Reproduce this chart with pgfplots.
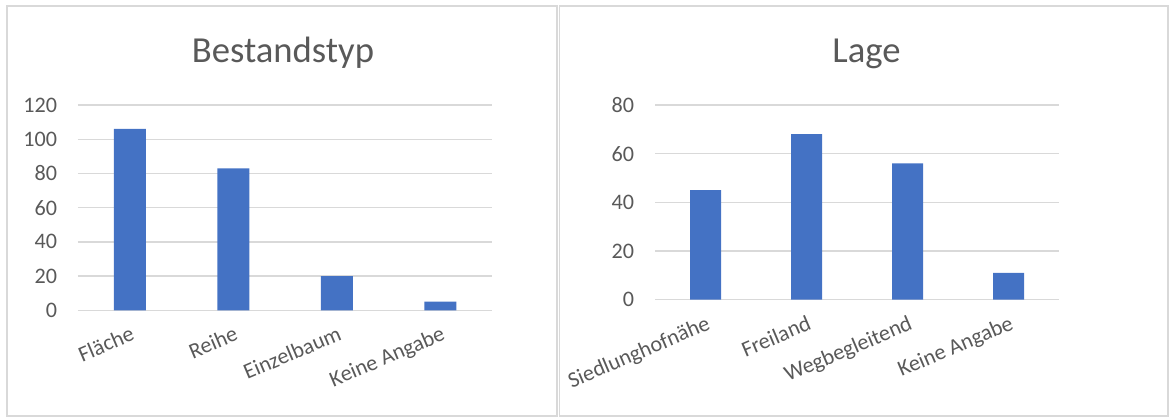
\documentclass[border=0pt]{standalone}
\usepackage{pgfplots}
\pgfplotsset{compat=1.18}
\usepackage{fontspec}
\setmainfont{Carlito}
\definecolor{barblue}{HTML}{4472C4}
\definecolor{gridgray}{HTML}{D9D9D9}
\definecolor{txtgray}{HTML}{595959}
\pgfplotsset{
  excelbar/.style={
    scale only axis,
    anchor=south west,
    ymin=0,
    xmin=-0.5, xmax=3.5,
    xtick=data,
    axis line style={draw=none},
    major tick length=0pt,
    ymajorgrids,
    grid style={gridgray, line width=1pt},
    /pgf/number format/assume math mode=true,
    tick label style={font=\fontsize{16.6}{19}\selectfont, text=txtgray},
    yticklabel style={anchor=east, inner sep=0pt, xshift=-15.5pt},
    xticklabel style={yshift=-11pt, rotate=23, anchor=north east, inner sep=0pt},
    clip=false,
  }
}
\begin{document}
\begin{tikzpicture}
\path[use as bounding box] (0,0) rectangle (876.75pt,312.75pt);
\draw[gridgray, line width=0.9pt] (5.25pt,0.75pt) rectangle (417.75pt,308.25pt);
\draw[gridgray, line width=0.9pt] (419.6pt,0.75pt) rectangle (876pt,308.25pt);
\node[anchor=base, text=txtgray, font=\fontsize{27.5}{32}\selectfont] at (212.25pt,265.7pt) {Bestandstyp};
\node[anchor=base, text=txtgray, font=\fontsize{27.5}{32}\selectfont] at (649.9pt,265.7pt) {Lage};
\begin{axis}[excelbar,
  at={(58.5pt,80.03pt)},
  width=310.5pt, height=153.98pt,
  ymax=120, ytick={0,20,40,60,80,100,120},
  xticklabels={Fläche,Reihe,Einzelbaum,Keine Angabe},
  bar width=24pt]
\addplot[ybar, fill=barblue, draw=none] coordinates {(0,106) (1,83) (2,20) (3,5)};
\end{axis}
\begin{axis}[excelbar,
  at={(491.25pt,87.98pt)},
  width=303pt, height=146.03pt,
  ymax=80, ytick={0,20,40,60,80},
  xticklabels={Siedlunghofnähe,Freiland,Wegbegleitend,Keine Angabe},
  bar width=23.25pt]
\addplot[ybar, fill=barblue, draw=none] coordinates {(0,45) (1,68) (2,56) (3,11)};
\end{axis}
\end{tikzpicture}
\end{document}
